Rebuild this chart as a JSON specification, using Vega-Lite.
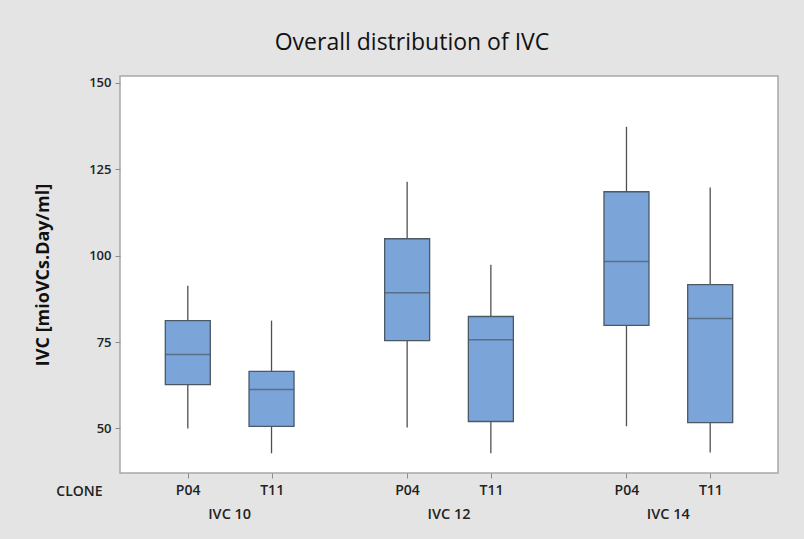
{
  "$schema": "https://vega.github.io/schema/vega-lite/v6.json",
  "width": 658,
  "height": 397,
  "autosize": {"type": "none"},
  "padding": {"left": 120, "top": 76, "right": 26, "bottom": 66},
  "background": "#e4e4e4",
  "view": {"fill": "white", "stroke": "#a8a8a8", "strokeWidth": 1.5},
  "title": {"text": "Overall distribution of IVC", "anchor": "middle", "dx": -37, "offset": 21, "fontSize": 23, "fontWeight": 500, "font": "Open Sans", "color": "#111111"},
  "config": {
    "axisY": {"labelFont": "Open Sans", "labelFontSize": 13, "labelFontWeight": 600, "labelColor": "#222222", "tickColor": "#8c8c8c", "tickSize": 5, "domain": false, "grid": false, "labelPadding": 4, "titleFont": "Open Sans", "titleFontWeight": "bold", "titleFontSize": 18, "titleColor": "#111111", "titleX": -77, "titleY": 198.5, "titleAngle": -90, "titleAlign": "center", "titleBaseline": "middle"},
    "axisX": {"labelFont": "Open Sans", "labelFontSize": 14, "labelFontWeight": 600, "labelColor": "#222222", "tickColor": "#8c8c8c", "tickSize": 5, "domain": false, "grid": false, "labelAngle": 0}
  },
  "data": {"values": [
    {"ivc": "IVC 10", "clone": "P04", "lo": 50.0, "q1": 62.7, "med": 71.4, "q3": 81.2, "hi": 91.3},
    {"ivc": "IVC 10", "clone": "T11", "lo": 42.8, "q1": 50.6, "med": 61.3, "q3": 66.5, "hi": 81.2},
    {"ivc": "IVC 12", "clone": "P04", "lo": 50.3, "q1": 75.4, "med": 89.3, "q3": 104.9, "hi": 121.4},
    {"ivc": "IVC 12", "clone": "T11", "lo": 42.8, "q1": 52.0, "med": 75.7, "q3": 82.4, "hi": 97.4},
    {"ivc": "IVC 14", "clone": "P04", "lo": 50.6, "q1": 79.8, "med": 98.3, "q3": 118.5, "hi": 137.3},
    {"ivc": "IVC 14", "clone": "T11", "lo": 43.0, "q1": 51.7, "med": 81.8, "q3": 91.6, "hi": 119.7}
  ]},
  "resolve": {"axis": {"x": "independent"}},
  "layer": [
    {
      "mark": {"type": "rule", "color": "#505050", "strokeWidth": 1.3},
      "encoding": {
        "x": {"field": "ivc", "type": "nominal", "scale": {"paddingInner": 0, "paddingOuter": 0}, "axis": {"orient": "bottom", "tickOffset": -42, "labelExpr": "'P04'", "labelPadding": 5, "title": "CLONE", "titleFont": "Open Sans", "titleFontSize": 14, "titleFontWeight": 600, "titleColor": "#222222", "titleX": -41, "titleY": 18, "titleAlign": "center", "titleBaseline": "middle"}},
        "xOffset": {"field": "clone", "type": "nominal", "scale": {"paddingInner": 0, "paddingOuter": 0.31}},
        "y": {"field": "lo", "type": "quantitative", "title": "IVC [mioVCs.Day/ml]", "scale": {"domain": [37.1, 152], "nice": false, "zero": false}, "axis": {"values": [50, 75, 100, 125, 150]}},
        "y2": {"field": "hi"}
      }
    },
    {
      "mark": {"type": "bar", "fill": "#7ba4d8", "stroke": "#4b5866", "strokeWidth": 1.3, "size": 45},
      "encoding": {
        "x": {"field": "ivc", "type": "nominal", "axis": {"orient": "bottom", "tickOffset": 42, "labelExpr": "'T11'", "labelPadding": 5, "title": null}},
        "xOffset": {"field": "clone", "type": "nominal"},
        "y": {"field": "q1", "type": "quantitative", "title": "IVC [mioVCs.Day/ml]"},
        "y2": {"field": "q3"}
      }
    },
    {
      "mark": {"type": "tick", "color": "#4b5866", "thickness": 1.5, "size": 45},
      "encoding": {
        "x": {"field": "ivc", "type": "nominal", "axis": {"orient": "bottom", "ticks": false, "labelPadding": 34, "labelFontSize": 14.5, "title": null}},
        "xOffset": {"field": "clone", "type": "nominal"},
        "y": {"field": "med", "type": "quantitative", "title": "IVC [mioVCs.Day/ml]"}
      }
    }
  ]
}
